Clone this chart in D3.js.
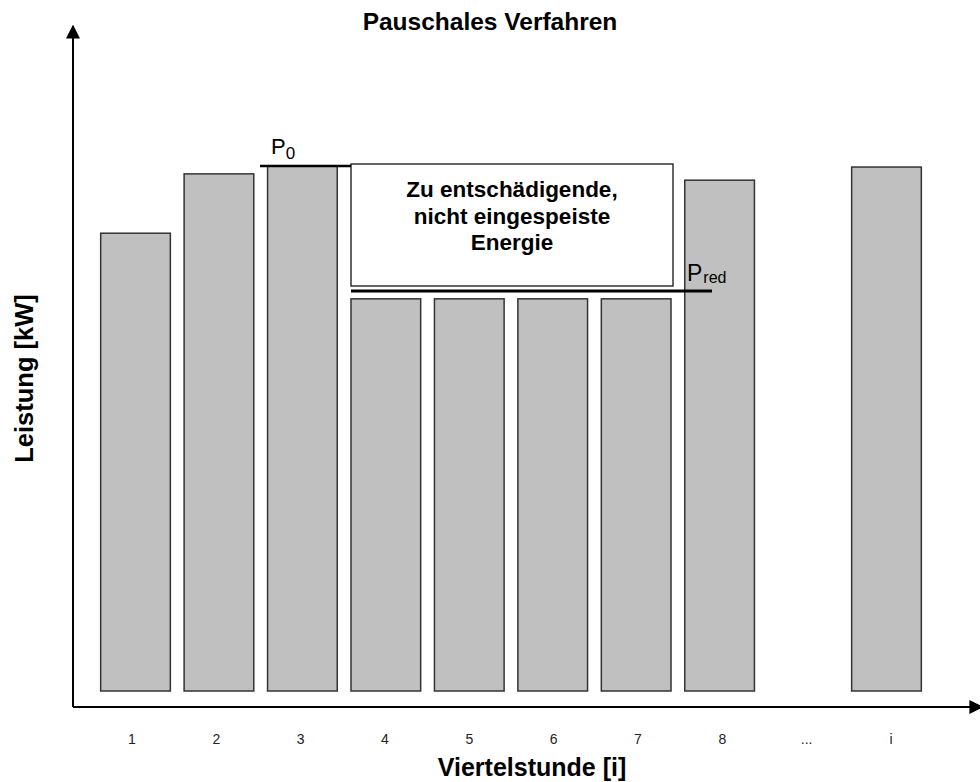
<!DOCTYPE html>
<html>
<head>
<meta charset="utf-8">
<script src="https://cdn.jsdelivr.net/npm/d3@7"></script>
<style>
  html, body { margin: 0; padding: 0; background: #fff; }
  svg { display: block; font-family: "Liberation Sans", Arial, sans-serif; }
</style>
</head>
<body>
<svg id="chart" width="980" height="782"></svg>
<script>
// ---- data ----
const categories = ["1", "2", "3", "4", "5", "6", "7", "8", "...", "i"];
const values = [87.2, 98.5, 100, 74.7, 74.7, 74.7, 74.7, 97.3, null, 99.8];
const p0Value = 100;
const pRedValue = 76.2;
const title = "Pauschales Verfahren";
const xTitle = "Viertelstunde [i]";
const yTitle = "Leistung [kW]";
const boxLines = ["Zu entschädigende,", "nicht eingespeiste", "Energie"];

// ---- layout ----
const svg = d3.select("#chart");
const axisX0 = 73, axisY0 = 707;
const x = d3.scaleBand().domain(categories).range([94, 928]).paddingInner(0.165).paddingOuter(0.08);
const xLab = d3.scalePoint().domain(categories).range([132, 891]);
const y = d3.scaleLinear().domain([0, 100]).range([691, 166]);

// arrow marker
const defs = svg.append("defs");
defs.append("marker").attr("id", "arr").attr("viewBox", "0 0 10 10")
  .attr("refX", 9).attr("refY", 5).attr("markerWidth", 7).attr("markerHeight", 7)
  .attr("orient", "auto-start-reverse")
  .append("path").attr("d", "M0,0 L10,5 L0,10 Z").attr("fill", "#000");

// bars
svg.append("g").selectAll("rect")
  .data(categories.map((c, i) => ({c, v: values[i]})).filter(d => d.v != null))
  .join("rect")
  .attr("x", d => x(d.c))
  .attr("y", d => y(d.v))
  .attr("width", x.bandwidth())
  .attr("height", d => y(0) - y(d.v))
  .attr("fill", "#c0c0c0")
  .attr("stroke", "#333")
  .attr("stroke-width", 1.5);

// axes
svg.append("line").attr("x1", axisX0).attr("y1", axisY0).attr("x2", axisX0).attr("y2", 26)
  .attr("stroke", "#000").attr("stroke-width", 2).attr("marker-end", "url(#arr)");
svg.append("line").attr("x1", axisX0).attr("y1", axisY0).attr("x2", 982).attr("y2", axisY0)
  .attr("stroke", "#000").attr("stroke-width", 2).attr("marker-end", "url(#arr)");

// tick labels
svg.append("g").selectAll("text").data(categories).join("text")
  .attr("x", d => xLab(d))
  .attr("y", 744)
  .attr("text-anchor", "middle")
  .attr("font-size", 14)
  .attr("fill", "#222")
  .text(d => d);

// annotation box
const bx0 = x("4"), bx1 = x("7") + x.bandwidth() + 2;
svg.append("rect").attr("x", bx0).attr("y", 164).attr("width", bx1 - bx0).attr("height", 122)
  .attr("fill", "#fff").attr("stroke", "#000").attr("stroke-width", 1.2);
svg.append("g").selectAll("text").data(boxLines).join("text")
  .attr("x", (bx0 + bx1) / 2)
  .attr("y", (d, i) => 197 + i * 26.5)
  .attr("text-anchor", "middle")
  .attr("font-size", 22.5)
  .attr("font-weight", "bold")
  .attr("fill", "#000")
  .text(d => d);

// P0 line
svg.append("line").attr("x1", 260).attr("x2", x("4")).attr("y1", y(p0Value)).attr("y2", y(p0Value))
  .attr("stroke", "#000").attr("stroke-width", 2.5);
const p0 = svg.append("text").attr("x", 271).attr("y", 154).attr("font-size", 22).attr("fill", "#000");
p0.append("tspan").text("P");
p0.append("tspan").attr("font-size", 17).attr("dy", 5).text("0");

// Pred line
svg.append("line").attr("x1", x("4")).attr("x2", 712).attr("y1", y(pRedValue)).attr("y2", y(pRedValue))
  .attr("stroke", "#000").attr("stroke-width", 3);
const pr = svg.append("text").attr("x", 687).attr("y", 281).attr("font-size", 23).attr("fill", "#000");
pr.append("tspan").text("P");
pr.append("tspan").attr("font-size", 16).attr("dy", 2).attr("dx", 1).text("red");

// titles
svg.append("text").attr("x", 490).attr("y", 30).attr("text-anchor", "middle")
  .attr("font-size", 24.5).attr("font-weight", "bold").text(title);
svg.append("text").attr("x", 532).attr("y", 776).attr("text-anchor", "middle")
  .attr("font-size", 25).attr("font-weight", "bold").text(xTitle);
svg.append("text").attr("transform", "translate(33,378.5) rotate(-90)").attr("text-anchor", "middle")
  .attr("font-size", 25.5).attr("font-weight", "bold").text(yTitle);
</script>
</body>
</html>
